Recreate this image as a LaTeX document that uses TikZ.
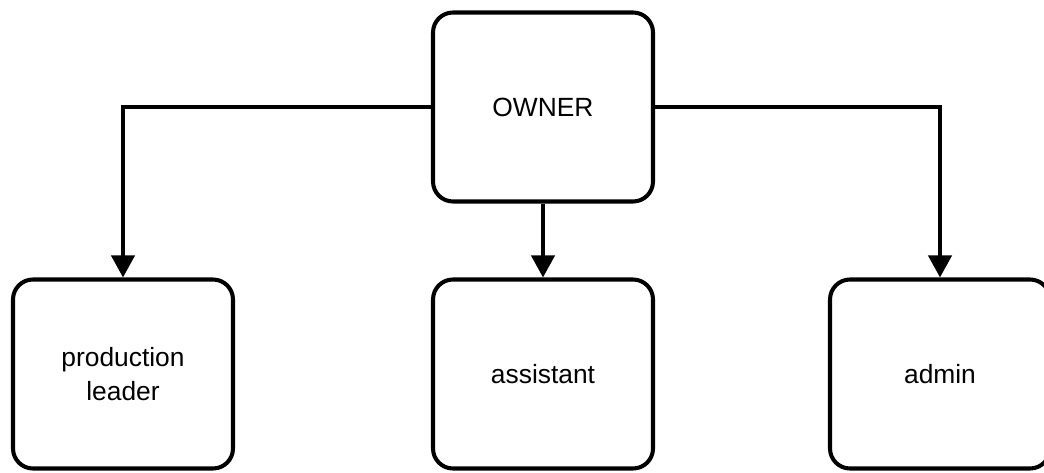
\documentclass[tikz,border=0pt]{standalone}
\usepackage{fontspec}
\setmainfont{Liberation Sans}
\usetikzlibrary{arrows.meta}

\tikzset{
  box/.style={draw, line width=2.3pt, rounded corners=0.4cm,
    minimum width=4.4cm, minimum height=3.78cm, align=center,
    font=\fontsize{15}{19}\selectfont},
  link/.style={line width=2.3pt, -{Triangle[width=0.46cm,length=0.44cm]}}
}

\begin{document}
\begin{tikzpicture}
          \clip (0,0) rectangle (20.88,9.44);
          \useasboundingbox (0,0) rectangle (20.88,9.44);

            % Chefe
          \node[box] (owner) at (10.86,7.3) {OWNER};
            % Equipe
          \node[box] (leader) at (2.46,1.96) {production\\leader};
          \node[box] (assistant) at (10.86,1.96) {assistant};
          \node[box] (admin) at (18.8,1.96) {admin};

          \draw[link] (owner.west) -| (leader.north);
          \draw[link] (owner.south) -- (assistant.north);
          \draw[link] (owner.east) -| (admin.north);
        \end{tikzpicture}
\end{document}
